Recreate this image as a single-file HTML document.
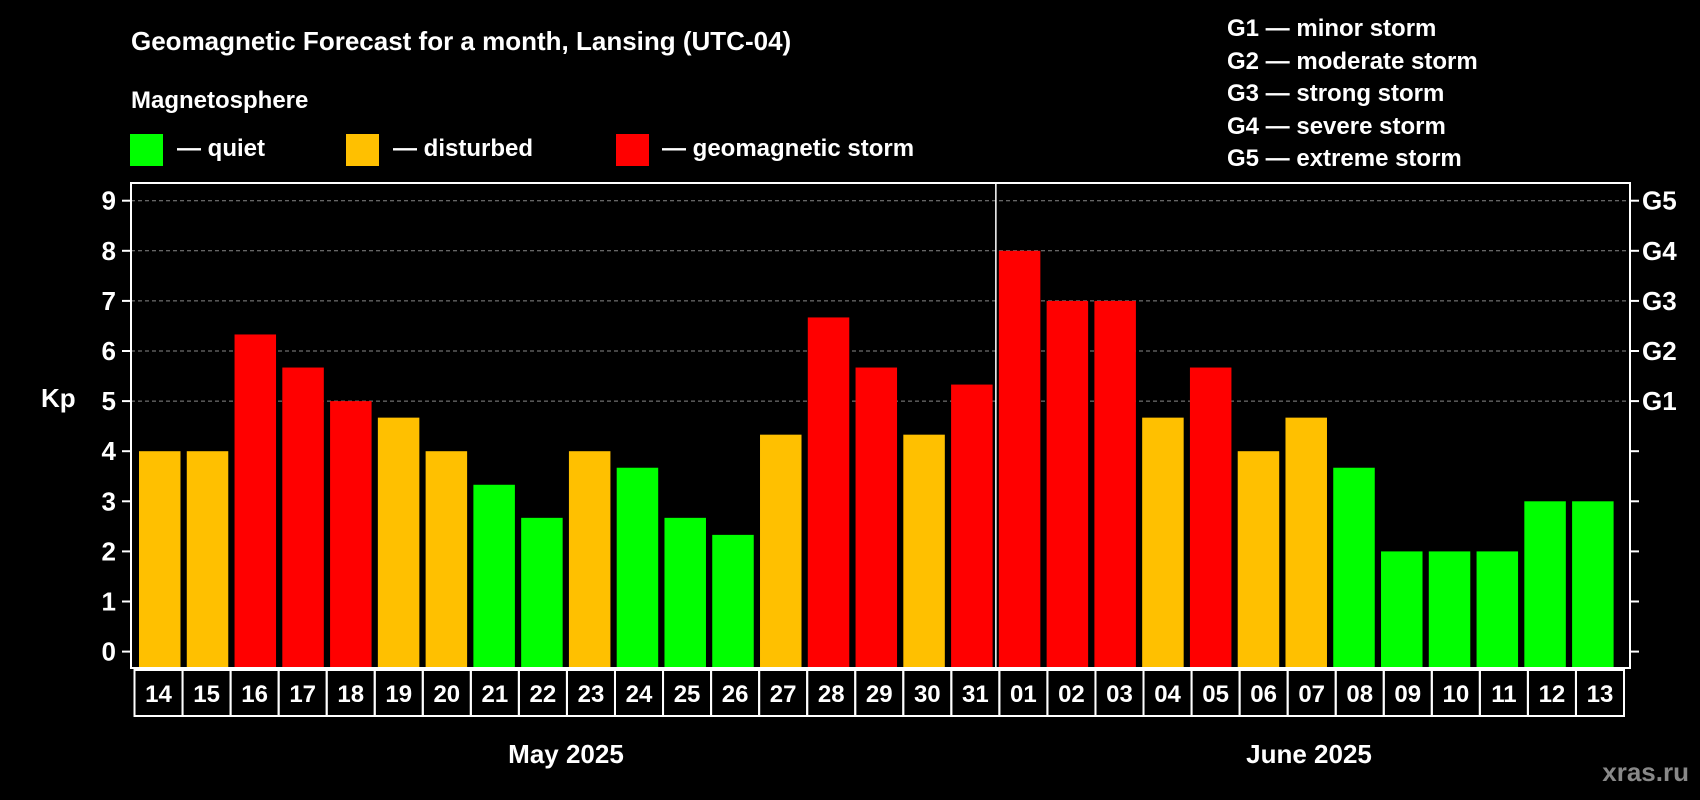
<!DOCTYPE html>
<html><head><meta charset="utf-8"><style>
html,body{margin:0;padding:0;background:#000;}
svg{display:block;font-family:"Liberation Sans",Arial,sans-serif;font-weight:bold;}
</style></head><body>
<svg id="chart" width="1700" height="800" viewBox="0 0 1700 800">
<rect width="1700" height="800" fill="#000"/>
<text x="131" y="50" fill="#fff" font-size="26">Geomagnetic Forecast for a month, Lansing (UTC-04)</text>
<text x="131" y="108" fill="#fff" font-size="24">Magnetosphere</text>
<g><rect x="130" y="134" width="33" height="32" fill="#00ff00"/><text x="177" y="156" fill="#fff" font-size="24">— quiet</text></g>
<g><rect x="346" y="134" width="33" height="32" fill="#ffc000"/><text x="393" y="156" fill="#fff" font-size="24">— disturbed</text></g>
<g><rect x="616" y="134" width="33" height="32" fill="#ff0000"/><text x="662" y="156" fill="#fff" font-size="24">— geomagnetic storm</text></g>
<g fill="#fff" font-size="24">
<text x="1227" y="36">G1 — minor storm</text>
<text x="1227" y="69">G2 — moderate storm</text>
<text x="1227" y="101">G3 — strong storm</text>
<text x="1227" y="134">G4 — severe storm</text>
<text x="1227" y="166">G5 — extreme storm</text>
</g>
<text x="41" y="407" fill="#fff" font-size="26">Kp</text>
<text x="566" y="763" fill="#fff" font-size="26" text-anchor="middle">May 2025</text>
<text x="1309" y="763" fill="#fff" font-size="26" text-anchor="middle">June 2025</text>
<text x="1689" y="781" fill="#888" font-size="26" text-anchor="end">xras.ru</text>
<g id="plot"></g>
</svg>
<script>
const days = ["14","15","16","17","18","19","20","21","22","23","24","25","26","27","28","29","30","31","01","02","03","04","05","06","07","08","09","10","11","12","13"];
const kpValues = [4,4,6.33,5.67,5,4.67,4,3.33,2.67,4,3.67,2.67,2.33,4.33,6.67,5.67,4.33,5.33,8,7,7,4.67,5.67,4,4.67,3.67,2,2,2,3,3];
const yTicks = [0,1,2,3,4,5,6,7,8,9];
const gLabels = ["G1","G2","G3","G4","G5"];
const gLevels = [5,6,7,8,9];
const monthBreakIndex = 18;

const NS="http://www.w3.org/2000/svg";
const plot=document.getElementById('plot');
const L=131,R=1630,T=183,B=668;
const y0=651.6,unit=50.1;
const x0=139,pitch=47.77,bw=41.5;
const yScale=v=>y0-v*unit;
const xScale=i=>x0+i*pitch;
function mk(tag,attrs){const e=document.createElementNS(NS,tag);for(const k in attrs)e.setAttribute(k,attrs[k]);plot.appendChild(e);return e;}
function color(v){return v>=5?"#ff0000":(v>=4?"#ffc000":"#00ff00");}

gLevels.forEach((lv,i)=>{
  const g=mk('line',{x1:L,x2:R,y1:yScale(lv),y2:yScale(lv),stroke:"#888","stroke-dasharray":"4,3","stroke-width":1});
  
  
  const t=mk('text',{x:1642,y:yScale(lv)+9,fill:"#fff","font-size":26});
  t.textContent=gLabels[i];
  
  
});
kpValues.forEach((v,i)=>{
  const r=mk('rect',{x:xScale(i),y:yScale(v),width:bw,height:B-yScale(v),fill:color(v)});
  
  
  const bx=134.5+i*(1489.5/days.length);
  const c=mk('rect',{x:bx,y:670,width:1489.5/days.length,height:46,fill:"none",stroke:"#fff","stroke-width":2});
  
  
  const t=mk('text',{x:bx+1489.5/days.length/2,y:702,fill:"#fff","font-size":24,"text-anchor":"middle"});
  t.textContent=days[i];
  
  
});
const dx=xScale(monthBreakIndex)-3;
const dv=mk('line',{x1:dx,x2:dx,y1:T,y2:B,stroke:"#fff","stroke-width":1.5});


yTicks.forEach(v=>{
  const y=yScale(v);
  const a=mk('line',{x1:L-9,x2:L,y1:y,y2:y,stroke:"#fff","stroke-width":2});
  
  
  const b=mk('line',{x1:R,x2:R+9,y1:y,y2:y,stroke:"#fff","stroke-width":2});
  
  
  const t=mk('text',{x:116,y:y+9,fill:"#fff","font-size":26,"text-anchor":"end"});
  t.textContent=v;
  
  
});
const frame=mk('rect',{x:L,y:T,width:R-L,height:B-T,fill:"none",stroke:"#fff","stroke-width":2});


</script>
</body></html>
